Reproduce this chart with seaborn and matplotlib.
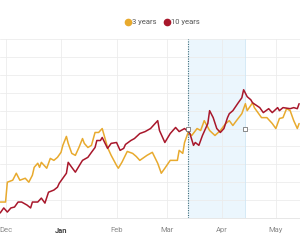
import pandas as pd
import matplotlib
matplotlib.use("Agg")
import matplotlib.pyplot as plt
from matplotlib.lines import Line2D
import seaborn as sns

# values, day offsets from 2021-01-01
start = pd.Timestamp("2021-01-01")

days_3y = [-34, -31, -30, -27, -25, -23, -20, -18, -16, -15, -13, -12, -11, -8, -6, -4, -2, 0, 1,
           3, 4, 6, 8, 10, 12, 13, 15, 17, 19, 21, 23, 26, 28, 31, 32, 34, 37, 40, 42, 44, 48, 51,
           54, 56, 58, 61, 65, 66, 68, 69, 71, 73, 76, 78, 80, 83, 86, 89, 92, 94, 96, 98, 101,
           103, 104, 107, 108, 110, 112, 115, 118, 120, 121, 122, 124, 126, 128, 130, 132, 133]
vals_3y = [0.89, 0.89, 2.00, 2.11, 2.50, 2.11, 2.22, 2.00, 2.39, 2.83, 3.06, 2.83, 3.11, 2.78,
           3.33, 3.22, 3.39, 3.67, 4.06, 4.56, 4.17, 3.61, 3.50, 3.94, 4.44, 4.17, 3.94, 4.06,
           4.78, 4.78, 5.00, 3.94, 3.50, 2.94, 2.78, 3.11, 3.72, 3.61, 3.44, 3.22, 3.50, 3.67,
           3.06, 2.50, 2.78, 3.22, 3.22, 3.78, 3.61, 4.22, 4.78, 4.61, 5.00, 4.89, 5.44, 4.89,
           4.61, 4.89, 5.28, 5.44, 5.17, 5.44, 5.83, 6.39, 6.00, 6.44, 6.17, 5.89, 5.61, 5.61,
           5.28, 5.00, 5.28, 5.56, 5.61, 6.11, 6.00, 5.44, 5.00, 5.28]

days_10y = [-34, -32, -30, -28, -26, -24, -22, -19, -17, -16, -13, -11, -9, -7, -4, -2, -1, 1,
            3, 4, 6, 8, 11, 12, 15, 17, 19, 20, 22, 23, 26, 28, 31, 33, 35, 36, 39, 41, 44, 47,
            50, 54, 55, 58, 61, 64, 66, 69, 71, 72, 74, 75, 77, 79, 82, 83, 85, 87, 89, 91, 93,
            94, 96, 99, 101, 102, 104, 106, 107, 111, 113, 116, 118, 121, 122, 124, 128, 130,
            132, 133]
vals_10y = [0.28, 0.56, 0.33, 0.56, 0.61, 0.89, 0.89, 0.72, 0.56, 0.89, 0.89, 1.11, 0.83, 1.44,
            1.56, 1.72, 1.94, 2.22, 2.50, 3.11, 2.83, 2.56, 3.06, 3.22, 3.39, 3.67, 3.94, 4.33,
            4.33, 4.50, 3.89, 4.17, 4.22, 3.78, 3.89, 4.11, 4.33, 4.44, 4.72, 4.83, 5.00, 5.44,
            4.89, 4.22, 4.72, 5.06, 4.83, 5.00, 4.83, 4.72, 4.06, 4.22, 4.06, 4.61, 5.28, 6.00,
            5.61, 5.00, 4.78, 5.00, 5.61, 5.83, 6.00, 6.44, 6.72, 7.17, 6.78, 6.61, 6.44, 6.17,
            5.89, 6.11, 5.89, 6.17, 6.00, 6.17, 6.11, 6.17, 6.11, 6.39]

series_names = ["3 years", "10 years"]
colors = ["#e8aa2e", "#a8172b"]

band_days = [71, 103]
band_vals = [4.95, 4.95]

month_ticks = ["2020-12-01", "2021-01-01", "2021-02-01", "2021-03-01", "2021-04-01", "2021-05-01"]
month_labels = ["Dec", "Jan", "Feb", "Mar", "Apr", "May"]

df = pd.concat([
    pd.DataFrame({"date": start + pd.to_timedelta(days_3y, unit="D"), "value": vals_3y, "series": series_names[0]}),
    pd.DataFrame({"date": start + pd.to_timedelta(days_10y, unit="D"), "value": vals_10y, "series": series_names[1]}),
])

sns.set_style("white")
plt.rcParams["font.family"] = ["Roboto", "DejaVu Sans"]

fig = plt.figure(figsize=(3.0, 2.46), dpi=100)
ax = fig.add_axes([0, 0.114, 1, 0.727])

band = start + pd.to_timedelta(band_days, unit="D")
ax.axvspan(band[0], band[1], color="#ebf6fd", zorder=0, lw=0)
ax.axvline(band[1], color="#cfe6f5", lw=0.6, zorder=1)

sns.lineplot(data=df, x="date", y="value", hue="series", palette=colors, estimator=None,
             lw=1.1, legend=False, ax=ax, zorder=3)

ax.axvline(band[0], color="#3d6b78", lw=0.8, ls=(0, (1, 1.2)), zorder=4)
ax.scatter(band, band_vals, marker="s", s=9, facecolor="white", edgecolor="#777777",
           linewidths=0.6, zorder=5)

ax.set_xlim(start - pd.Timedelta(days=34.1), start + pd.Timedelta(days=133.5))
ax.set_ylim(0, 10)
ax.set_yticks(range(0, 11))
ax.set_yticklabels([])
ax.set_xticks(pd.to_datetime(month_ticks))
ax.set_xticklabels(month_labels)
ax.grid(True, color="#ececec", lw=0.6)
ax.tick_params(axis="both", length=0)
ax.tick_params(axis="x", pad=6.5, labelsize=5.5, labelcolor="#8a8a8a")
for lab in ax.get_xticklabels():
    if lab.get_text() == "Jan":
        lab.set_fontweight("bold")
        lab.set_color("#444444")
for side in ["left", "right", "top"]:
    ax.spines[side].set_visible(False)
ax.spines["bottom"].set_color("#e3e3e3")
ax.spines["bottom"].set_linewidth(0.6)
ax.set_xlabel("")
ax.set_ylabel("")

handles = [Line2D([], [], ls="", marker="o", ms=4.5, color=c) for c in colors]
fig.legend(handles, series_names, loc="center", bbox_to_anchor=(0.54, 1 - 22 / 246), ncol=2,
           frameon=False, fontsize=5.5, labelcolor="#555555", handletextpad=0.05,
           columnspacing=0.8, handlelength=1.0)

fig.savefig("out.png", dpi=100)
